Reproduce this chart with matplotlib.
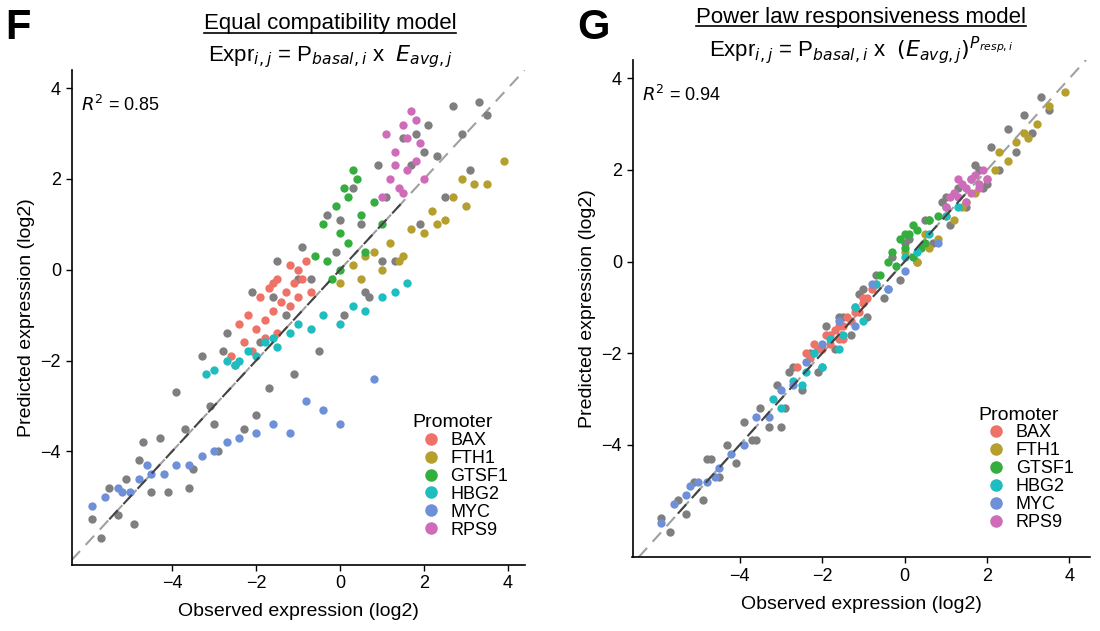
import matplotlib
matplotlib.use("Agg")
import matplotlib.pyplot as plt
from matplotlib.lines import Line2D

promoters = ["BAX", "FTH1", "GTSF1", "HBG2", "MYC", "RPS9"]
colors = ["#EE7268", "#B59F2E", "#34AE3E", "#1EBDC0", "#6D90D8", "#CF6CB9"]

gray_obs = [-5.9,-5.7,-5.5,-5.3,-5.1,-4.9,-4.7,-4.5,-4.3,-4.1,-3.9,-3.7,-3.5,-3.3,-3.1,-2.9,-2.7,-2.5,-2.3,-2.1,
            -1.9,-1.7,-1.5,-1.3,-1.1,-0.9,-0.7,-0.5,-0.3,-0.1,0.1,0.3,0.5,0.7,0.9,1.1,1.3,1.5,1.7,1.9,
            2.1,2.3,2.5,2.7,2.9,3.1,3.3,3.5,-4.8,-3.6,-2.8,-2.0,-1.0,0.0,1.0,2.0,-3.0,-1.6,0.6,1.8]
gray_predF = [-5.5,-5.9,-4.8,-5.4,-4.6,-5.6,-3.8,-4.9,-3.7,-4.9,-2.7,-3.5,-4.4,-1.9,-3.0,-4.0,-1.4,-2.1,-3.5,-0.5,
              -1.6,-2.6,0.2,-1.0,-2.3,0.5,-0.2,-1.8,1.2,0.4,-1.0,1.8,1.0,-0.6,2.3,1.6,0.2,2.9,2.3,1.0,
              3.2,2.5,1.6,3.6,3.0,2.2,3.7,3.4,-4.2,-4.8,-1.8,-3.2,-0.2,1.1,0.2,2.6,-3.4,-0.6,-0.5,3.0]
gray_predG = [-5.6,-5.9,-5.2,-5.5,-4.8,-5.2,-4.3,-4.7,-4.0,-4.4,-3.5,-3.9,-3.2,-3.6,-2.7,-3.2,-2.3,-2.8,-2.0,-2.4,
              -1.4,-1.9,-1.2,-1.6,-0.7,-1.2,-0.3,-0.8,0.1,-0.4,0.5,0.0,0.9,0.4,1.3,0.8,1.6,1.2,2.1,1.6,
              2.5,2.0,2.9,2.4,3.2,2.8,3.6,3.3,-4.3,-3.9,-2.4,-2.3,-0.6,0.4,1.4,1.7,-3.6,-1.2,0.9,2.0]

bax_obs = [-2.6,-2.4,-2.3,-2.2,-2.0,-1.9,-1.8,-1.7,-1.6,-1.5,-1.4,-1.3,-1.2,-1.1,-1.0,-0.9,-0.8,-0.7,-1.8,-1.5,-1.2,-2.1,-1.6,-1.0]
bax_predF = [-1.9,-1.2,-1.6,-1.0,-1.3,-0.6,-1.1,-0.4,-0.9,-0.2,-0.7,-0.5,0.1,-0.3,0.0,-0.2,0.2,-0.5,-1.5,-1.4,-0.8,-1.8,-0.3,-0.6]
bax_predG = [-2.3,-2.0,-2.1,-1.8,-1.9,-1.6,-1.8,-1.5,-1.7,-1.4,-1.2,-1.3,-1.0,-1.1,-0.9,-0.8,-0.6,-0.5,-1.6,-1.7,-1.1,-1.9,-1.4,-0.8]

fth1_obs = [0.0,0.3,0.5,0.8,1.0,1.2,1.5,1.7,2.0,2.2,2.5,2.7,3.0,3.2,3.5,3.9,0.6,1.4,2.3,2.9]
fth1_predF = [-0.3,0.1,-0.2,0.4,0.0,0.6,0.3,0.9,0.8,1.3,1.1,1.6,1.4,1.9,1.9,2.4,0.3,0.2,1.0,2.0]
fth1_predG = [0.2,0.0,0.6,0.5,1.0,0.9,1.3,1.5,1.8,2.0,2.2,2.6,2.7,3.0,3.4,3.7,0.3,1.2,2.4,2.8]

gtsf1_obs = [-0.6,-0.4,-0.3,-0.1,0.0,0.1,0.2,0.3,0.5,0.6,0.8,1.0,-0.2,0.4,0.0,0.2]
gtsf1_predF = [0.3,1.0,0.2,1.4,0.0,1.8,0.6,2.2,1.2,0.4,1.5,1.0,-0.2,2.0,0.8,1.6]
gtsf1_predG = [-0.3,0.0,0.2,0.5,0.3,0.6,0.1,0.7,0.4,0.9,1.0,1.2,-0.1,0.3,0.6,0.8]

hbg2_obs = [-3.2,-3.0,-2.7,-2.5,-2.2,-2.0,-1.8,-1.5,-1.2,-1.0,-0.7,-0.4,0.0,0.3,0.6,1.0,1.3,1.6,-2.4,-1.6]
hbg2_predF = [-2.3,-2.2,-2.0,-2.1,-1.8,-1.9,-1.6,-1.7,-1.4,-1.2,-1.3,-1.0,-1.2,-0.8,-0.9,-0.6,-0.5,-0.3,-2.0,-1.5]
hbg2_predG = [-3.0,-3.2,-2.6,-2.7,-2.0,-2.3,-1.7,-1.6,-1.0,-1.3,-0.5,-0.6,0.1,0.2,0.6,1.0,1.2,1.8,-2.4,-1.9]

myc_obs = [-5.9,-5.6,-5.3,-5.0,-4.8,-4.5,-4.2,-3.9,-3.6,-3.3,-3.0,-2.7,-2.4,-2.0,-1.6,-1.2,-0.8,-0.4,0.0,0.8,-5.2,-4.6]
myc_predF = [-5.2,-5.0,-4.8,-4.9,-4.6,-4.5,-4.5,-4.3,-4.3,-4.1,-4.0,-3.8,-3.7,-3.6,-3.4,-3.6,-2.9,-3.1,-3.4,-2.4,-4.9,-4.3]
myc_predG = [-5.7,-5.3,-5.1,-4.8,-4.8,-4.5,-4.2,-4.0,-3.4,-3.4,-2.8,-2.7,-2.2,-1.8,-1.3,-1.4,-0.5,-0.6,-0.2,0.4,-4.9,-4.7]

rps9_obs = [1.0,1.2,1.3,1.4,1.5,1.6,1.7,1.8,1.9,2.0,1.1,1.5,1.8,1.3,1.6]
rps9_predF = [1.6,2.0,2.6,1.8,3.2,2.2,3.5,2.4,2.8,2.0,3.0,1.7,3.3,2.3,2.9]
rps9_predG = [1.2,1.5,1.4,1.7,1.6,1.8,1.9,1.7,2.0,1.8,1.4,1.3,1.6,1.8,1.5]

groups_obs = [bax_obs, fth1_obs, gtsf1_obs, hbg2_obs, myc_obs, rps9_obs]
groups_F = [bax_predF, fth1_predF, gtsf1_predF, hbg2_predF, myc_predF, rps9_predF]
groups_G = [bax_predG, fth1_predG, gtsf1_predG, hbg2_predG, myc_predG, rps9_predG]
r2 = ["0.85", "0.94"]
ticks = [-4, -2, 0, 2, 4]

plt.rcParams["font.family"] = ["Liberation Sans", "DejaVu Sans"]
fig = plt.figure(figsize=(11, 6.31), dpi=100)
axF = fig.add_axes([0.065, 0.105, 0.412, 0.784])
axG = fig.add_axes([0.575, 0.117, 0.416, 0.788])

def draw(ax, gray_pred, preds, r2txt, xlim, ylim):
    ax.axline((0, 0), slope=1, color="#a0a0a0", lw=1.5, ls=(0, (6, 4)), zorder=0)
    ax.scatter(gray_obs, gray_pred, s=36, color="#7f7f7f", linewidths=0, zorder=1)
    for obs, pr, c in zip(groups_obs, preds, colors):
        ax.scatter(obs, pr, s=36, color=c, linewidths=0, zorder=2)
    ax.plot([-5.5, 1.5], [-5.5, 1.5], color="#444444", lw=1.5, ls=(0, (6, 4)), zorder=3)
    ax.set_xlim(*xlim); ax.set_ylim(*ylim)
    ax.set_xticks(ticks); ax.set_yticks(ticks)
    ax.set_xticklabels(["\u22124", "\u22122", "0", "2", "4"])
    ax.set_yticklabels(["\u22124", "\u22122", "0", "2", "4"])
    ax.tick_params(labelsize=13, length=4, width=1, colors="black")
    for s in ["top", "right"]:
        ax.spines[s].set_visible(False)
    ax.spines["left"].set_linewidth(1.2); ax.spines["bottom"].set_linewidth(1.2)
    ax.set_xlabel("Observed expression (log2)", fontsize=14, labelpad=8)
    ax.set_ylabel("Predicted expression (log2)", fontsize=14)
    ax.text(0.02, 0.95, "$R^2$ = " + r2txt, transform=ax.transAxes, fontsize=13, va="top")
    handles = [Line2D([], [], marker="o", ls="", color=c, markersize=8) for c in colors]
    leg = ax.legend(handles, promoters, title="Promoter", loc="lower right", frameon=False,
                    fontsize=13, title_fontsize=14, handletextpad=0.1, labelspacing=0.05,
                    bbox_to_anchor=(1.0, 0.02))
    leg._legend_box.align = "left"

draw(axF, gray_predF, groups_F, r2[0], (-6.4, 4.4), (-6.5, 4.4))
draw(axG, gray_predG, groups_G, r2[1], (-6.6, 4.5), (-6.45, 4.4))

fig.text(0.005, 0.955, "F", fontsize=30, fontweight="bold", va="center")
fig.text(0.525, 0.955, "G", fontsize=30, fontweight="bold", va="center")
t1 = fig.text(0.30, 0.963, "Equal compatibility model", fontsize=16, ha="center", va="center")
t2 = fig.text(0.783, 0.973, "Power law responsiveness model", fontsize=16, ha="center", va="center")
fig.text(0.30, 0.91, r"Expr$_{i,j}$ = P$_{basal,i}$ x  $E_{avg,j}$", fontsize=16, ha="center", va="center")
fig.text(0.783, 0.92, r"Expr$_{i,j}$ = P$_{basal,i}$ x  $(E_{avg,j})^{P_{resp,i}}$", fontsize=16, ha="center", va="center")

fig.canvas.draw()
r = fig.canvas.get_renderer()
inv = fig.transFigure.inverted()
for t in (t1, t2):
    bb = t.get_window_extent(r)
    (x0, y0), (x1, y1) = inv.transform([(bb.x0, bb.y0), (bb.x1, bb.y1)])
    fig.add_artist(Line2D([x0, x1], [y0 + 0.002, y0 + 0.002], color="black", lw=1.2, transform=fig.transFigure))

fig.savefig("out.png", dpi=100)
